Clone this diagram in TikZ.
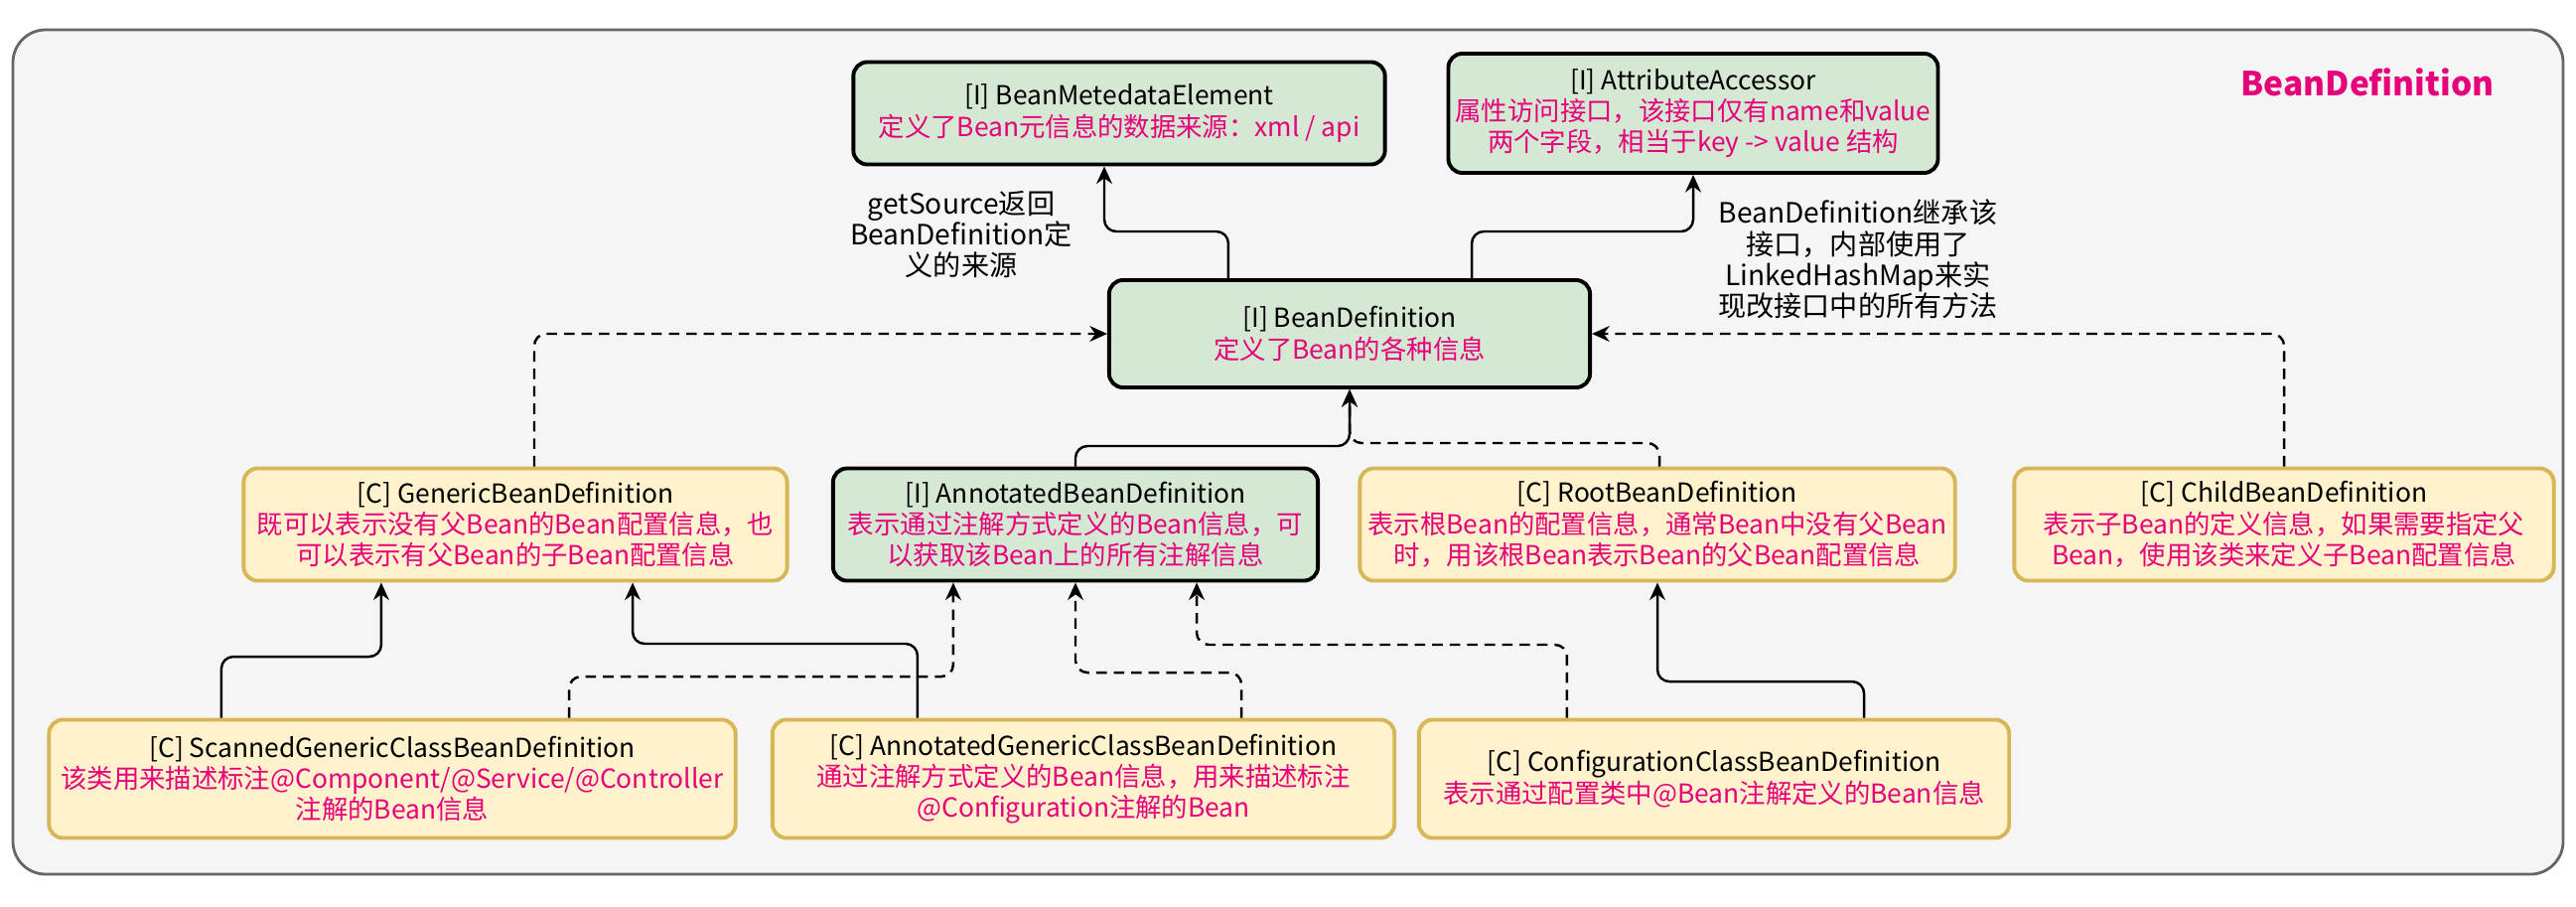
\documentclass[tikz,border=0pt]{standalone}
\usepackage{fontspec}
\setmainfont{Noto Sans CJK SC}
\usetikzlibrary{arrows.meta}

\definecolor{ifill}{HTML}{D5E8D4}
\definecolor{cfill}{HTML}{FFF2CC}
\definecolor{cline}{HTML}{D6B656}
\definecolor{desc}{HTML}{E6007A}
\definecolor{panel}{HTML}{F5F5F5}
\definecolor{panelline}{HTML}{666666}

\tikzset{
  iface/.style={draw=black, fill=ifill, line width=1.1pt, rounded corners=4pt,
    align=center, inner sep=2pt, font=\fontsize{7.5}{8.9}\selectfont},
  klass/.style={iface, draw=cline, fill=cfill},
  note/.style={align=center, font=\fontsize{8}{8.9}\selectfont},
  link/.style={->, line width=0.7pt, rounded corners=0.12cm},
  dlink/.style={link, dash pattern=on 3pt off 2pt},
}

\begin{document}
\begin{tikzpicture}[x=0.01cm, y=-0.01cm, >={Stealth[length=5pt,width=4.5pt]}]
    \useasboundingbox (0,0) rectangle (2594,912);
    \draw[fill=panel, draw=panelline, line width=0.8pt, rounded corners=0.33cm] (13,30) rectangle (2581,880);
    \node[font=\fontsize{9.5}{11}\selectfont\bfseries, text=desc] (title) at (2384,83) {BeanDefinition};

    % interfaces
    \node[iface, minimum width=5.35cm, minimum height=1.03cm] (bme) at (1127,114)
        {[I] BeanMetedataElement\\\textcolor{desc}{定义了Bean元信息的数据来源：xml / api}};
    \node[iface, minimum width=4.9cm, minimum height=1.2cm] (aa) at (1705,114)
        {[I] AttributeAccessor\\\textcolor{desc}{属性访问接口，该接口仅有name和value}\\\textcolor{desc}{两个字段，相当于key -> value 结构}};
    \node[iface, minimum width=4.84cm, minimum height=1.08cm] (bd) at (1359,336)
        {[I] BeanDefinition\\\textcolor{desc}{定义了Bean的各种信息}};

    % middle row
    \node[klass, minimum width=5.47cm, minimum height=1.13cm] (gbd) at (519,528)
        {[C] GenericBeanDefinition\\\textcolor{desc}{既可以表示没有父Bean的Bean配置信息，也}\\\textcolor{desc}{可以表示有父Bean的子Bean配置信息}};
    \node[iface, minimum width=4.88cm, minimum height=1.13cm] (abd) at (1083,528)
        {[I] AnnotatedBeanDefinition\\\textcolor{desc}{表示通过注解方式定义的Bean信息，可}\\\textcolor{desc}{以获取该Bean上的所有注解信息}};
    \node[klass, minimum width=5.99cm, minimum height=1.13cm] (rbd) at (1669,528)
        {[C] RootBeanDefinition\\\textcolor{desc}{表示根Bean的配置信息，通常Bean中没有父Bean}\\\textcolor{desc}{时，用该根Bean表示Bean的父Bean配置信息}};
    \node[klass, minimum width=5.43cm, minimum height=1.13cm] (cbd) at (2300,528)
        {[C] ChildBeanDefinition\\\textcolor{desc}{表示子Bean的定义信息，如果需要指定父}\\\textcolor{desc}{Bean，使用该类来定义子Bean配置信息}};

    % bottom row
    \node[klass, minimum width=6.91cm, minimum height=1.19cm] (sgc) at (395,784)
        {[C] ScannedGenericClassBeanDefinition\\\textcolor{desc}{该类用来描述标注@Component/@Service/@Controller}\\\textcolor{desc}{注解的Bean信息}};
    \node[klass, minimum width=6.26cm, minimum height=1.19cm] (agc) at (1091,784)
        {[C] AnnotatedGenericClassBeanDefinition\\\textcolor{desc}{通过注解方式定义的Bean信息，用来描述标注}\\\textcolor{desc}{@Configuration注解的Bean}};
    \node[klass, minimum width=5.94cm, minimum height=1.19cm] (ccb) at (1726,784)
        {[C] ConfigurationClassBeanDefinition\\\textcolor{desc}{表示通过配置类中@Bean注解定义的Bean信息}};

    % notes
    \node[note] (srcnote) at (968,236) {getSource返回\\BeanDefinition定\\义的来源};
    \node[note] (attrnote) at (1871,261) {BeanDefinition继承该\\接口，内部使用了\\LinkedHashMap来实\\现改接口中的所有方法};

    % upward links
    \draw[link] ([xshift=-1.22cm]bd.north) |- ([xshift=-0.15cm,yshift=-0.655cm]bme.south) -- ([xshift=-0.15cm]bme.south);
    \draw[link] ([xshift=1.23cm]bd.north) |- ([yshift=-0.57cm]aa.south) -- (aa.south);
    \draw[dlink] ([xshift=0.19cm]gbd.north) |- (bd.west);
    \draw[dlink] (cbd.north) |- (bd.east);
    \draw[link] (abd.north) |- ([yshift=-0.57cm]bd.south) -- (bd.south);
    \draw[dlink] ([xshift=0.02cm]rbd.north) |- ([yshift=-0.54cm]bd.south) -- (bd.south);

    \draw[link] ([xshift=-1.72cm]sgc.north) |- ([xshift=-1.35cm,yshift=-0.745cm]gbd.south) -- ([xshift=-1.35cm]gbd.south);
    \draw[dlink] ([xshift=1.78cm]sgc.north) |- ([xshift=-1.23cm,yshift=-0.945cm]abd.south) -- ([xshift=-1.23cm]abd.south);
    \draw[link] ([xshift=-1.67cm]agc.north) |- ([xshift=1.18cm,yshift=-0.615cm]gbd.south) -- ([xshift=1.18cm]gbd.south);
    \draw[dlink] ([xshift=1.59cm]agc.north) |- ([yshift=-0.905cm]abd.south) -- (abd.south);
    \draw[dlink] ([xshift=-1.48cm]ccb.north) |- ([xshift=1.22cm,yshift=-0.625cm]abd.south) -- ([xshift=1.22cm]abd.south);
    \draw[link] ([xshift=1.51cm]ccb.north) |- ([yshift=-0.995cm]rbd.south) -- (rbd.south);
\end{tikzpicture}
\end{document}
